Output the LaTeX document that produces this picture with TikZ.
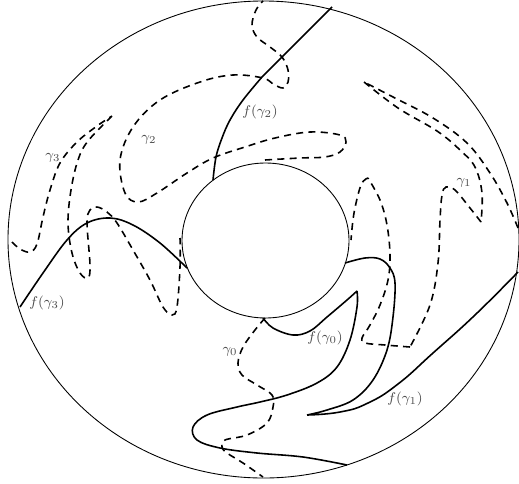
\documentclass[tikz,border=0pt]{standalone}
\usepackage{amsmath,amssymb}
\usepackage{tikz}

\begin{document}
\begin{tikzpicture}[
  x=0.02cm, y=-0.02cm,
  rim/.style={line width=0.5pt},
  image/.style={line width=0.9pt},
  arc/.style={line width=0.9pt, dash pattern=on 4pt off 3pt},
  lbl/.style={font=\footnotesize, text=black!70, inner sep=1pt}
]
\useasboundingbox (0,0) rectangle (519,483);

% boundary of the annulus
\draw[rim] (263.5,239.5) ellipse [x radius=255.5, y radius=238.5];
\draw[rim] (265.5,240.5) ellipse [x radius=83.5, y radius=77.5];

% arcs gamma_i
\draw[arc] plot[smooth, tension=0.6] coordinates {(265,160) (300,158) (325,157)
  (340,152) (346,142) (340,135) (310,132) (275,138) (245,147) (213,158) (187,173)
  (157,193) (138,202) (125,193) (120,160) (133,127) (160,100) (200,82) (233,75)
  (263,78) (273,84) (283,88) (288,82) (288,70) (282,57) (270,47) (257,37) (252,25)
  (256,10) (263,1)};
\draw[arc] plot[smooth, tension=0.6] coordinates {(12,242) (20,249) (30,252) (37,244)
  (43,217) (50,190) (60,163) (77,142) (97,126) (112,116)}
  plot[smooth, tension=0.6] coordinates {(112,116) (88,141) (78,160) (71,190)
  (68,223) (72,253) (80,273) (88,278) (90,265) (87,223) (90,210) (97,207) (107,212)
  (117,223) (133,250) (150,280) (163,307) (172,315) (177,307) (180,267) (180,238)};
\draw[arc] plot[smooth, tension=0.6] coordinates {(518,228) (507,203) (490,173)
  (467,143) (433,118) (393,97) (364,82)}
  plot[smooth, tension=0.6] coordinates {(364,82) (398,108) (437,131) (460,150)
  (475,167) (482,193) (481,222)}
  plot[smooth, tension=0.6] coordinates {(481,222) (470,208) (455,190) (446,187)
  (442,195) (440,220) (438,263) (430,305) (410,347)}
  plot[smooth, tension=0.6] coordinates {(410,347) (385,345) (365,343) (362,338)
  (370,325) (380,305) (388,280) (390,255) (387,225) (380,200) (368,178)}
  plot[smooth, tension=0.6] coordinates {(368,178) (361,185) (354,213) (351,240)};
\draw[arc] plot[smooth, tension=0.6] coordinates {(265,318) (255,330) (243,347)
  (238,363) (242,375) (257,385) (272,395) (273,407) (267,423) (247,435) (225,440)
  (222,447) (227,453) (243,463) (263,477)};

% images f(gamma_i)
\draw[image] plot[smooth, tension=0.6] coordinates {(213,180) (216,157) (222,138)
  (230,120) (243,100) (262,77)} -- (332,7);
\draw[image] plot[smooth, tension=0.6] coordinates {(20,307) (43,273) (67,240)
  (87,223) (110,218) (133,225) (160,243) (187,268)};
\draw[image] plot[smooth, tension=0.8] coordinates {(518,272) (475,315) (433,353)
  (398,384) (368,403) (340,412) (307,415)}
  plot[smooth, tension=0.6] coordinates {(307,415) (327,410) (353,400) (373,380)
  (387,350) (393,317) (395,283) (390,268) (380,259) (365,258) (345,263)};
\draw[image] plot[smooth, tension=0.6] coordinates {(263,318) (273,328) (293,335)
  (310,331) (327,317) (347,300) (357,291)}
  plot[smooth, tension=0.6] coordinates {(357,291) (357,307) (350,340) (337,367)
  (317,383) (287,395) (260,402) (237,407) (207,415) (193,427) (197,440) (220,448)
  (257,453) (303,457) (347,465)};

% labels
\node[lbl] (g0) at (230,352) {$\gamma_0$};
\node[lbl] (g1) at (464,183) {$\gamma_1$};
\node[lbl] (g2) at (149,140) {$\gamma_2$};
\node[lbl] (g3) at (53,158) {$\gamma_3$};
\node[lbl] (fg0) at (325,338) {$f(\gamma_0)$};
\node[lbl] (fg1) at (405,399) {$f(\gamma_1)$};
\node[lbl] (fg2) at (260,112) {$f(\gamma_2)$};
\node[lbl] (fg3) at (47,303) {$f(\gamma_3)$};

\end{tikzpicture}
\end{document}
